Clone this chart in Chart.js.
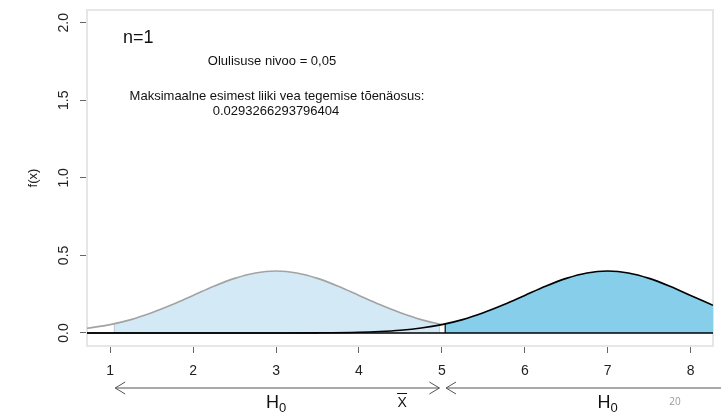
<!DOCTYPE html>
<html>
<head>
<meta charset="utf-8">
<script src="https://cdn.jsdelivr.net/npm/chart.js@4.4.1/dist/chart.umd.min.js"></script>
<style>
  html, body { margin: 0; padding: 0; background: #ffffff; }
  canvas { display: block; }
</style>
</head>
<body>
<canvas id="c" width="721" height="415"></canvas>
<script>
// ---- data ----
const xTicks = [1, 2, 3, 4, 5, 6, 7, 8];
const yTicks = [0, 0.5, 1.0, 1.5, 2.0];
const xRange = [0.72, 8.27];
const yRange = [-0.084, 2.082];

// density under H0 (mean 3), grey outline
const h0CurveX = [0.72, 1.0, 1.25, 1.5, 1.75, 2.0, 2.25, 2.5, 2.75, 3.0, 3.25, 3.5, 3.75, 4.0, 4.25, 4.5, 4.75, 5.0];
const h0CurveY = [0.030, 0.054, 0.086, 0.130, 0.183, 0.242, 0.301, 0.352, 0.387, 0.399, 0.387, 0.352, 0.301, 0.242, 0.183, 0.130, 0.086, 0.054];

// light shaded acceptance region
const h0FillX = [1.05, 1.25, 1.5, 1.75, 2.0, 2.25, 2.5, 2.75, 3.0, 3.25, 3.5, 3.75, 4.0, 4.25, 4.5, 4.75, 4.97];
const h0FillY = [0.060, 0.086, 0.130, 0.183, 0.242, 0.301, 0.352, 0.387, 0.399, 0.387, 0.352, 0.301, 0.242, 0.183, 0.130, 0.086, 0.057];

// density with mean 7, black outline
const h1CurveX = [0.72, 2.5, 3.0, 3.5, 4.0, 4.25, 4.5, 4.75, 5.0, 5.25, 5.5, 5.75, 6.0, 6.25, 6.5, 6.75, 7.0, 7.25, 7.5, 7.75, 8.0, 8.27];
const h1CurveY = [0.000, 0.000, 0.0001, 0.0009, 0.0044, 0.0091, 0.0175, 0.0317, 0.054, 0.086, 0.130, 0.183, 0.242, 0.301, 0.352, 0.387, 0.399, 0.387, 0.352, 0.301, 0.242, 0.178];

// darker shaded region
const h1FillX = [5.04, 5.25, 5.5, 5.75, 6.0, 6.25, 6.5, 6.75, 7.0, 7.25, 7.5, 7.75, 8.0, 8.27];
const h1FillY = [0.058, 0.086, 0.130, 0.183, 0.242, 0.301, 0.352, 0.387, 0.399, 0.387, 0.352, 0.301, 0.242, 0.178];

const zip = (xs, ys) => xs.map((x, i) => ({ x: x, y: ys[i] }));
const edge = (xs, ys, i) => [{ x: xs[i], y: 0 }, { x: xs[i], y: ys[i] }];

const FONT = '"Liberation Sans", Arial, sans-serif';

const overlay = {
  id: 'overlay',
  beforeDatasetsDraw(chart) {
    const { ctx, chartArea: a } = chart;
    ctx.save();
    ctx.strokeStyle = '#e6e6e6';
    ctx.lineWidth = 2;
    ctx.strokeRect(a.left, a.top, a.right - a.left, a.bottom - a.top);
    ctx.restore();
  },
  afterDraw(chart) {
    const { ctx } = chart;
    const xs = chart.scales.x, ys = chart.scales.y;
    ctx.save();
    ctx.fillStyle = '#222';
    // y tick labels (rotated, parallel to axis)
    ctx.font = '14px ' + FONT;
    ctx.textAlign = 'center';
    ctx.textBaseline = 'middle';
    yTicks.forEach(v => {
      ctx.save();
      ctx.translate(64, ys.getPixelForValue(v));
      ctx.rotate(-Math.PI / 2);
      ctx.fillText(v.toFixed(1), 0, 0);
      ctx.restore();
    });
    // y axis title
    ctx.save();
    ctx.font = '13px ' + FONT;
    ctx.translate(33, 178);
    ctx.rotate(-Math.PI / 2);
    ctx.fillText('f(x)', 0, 0);
    ctx.restore();

    // annotations
    ctx.fillStyle = '#111';
    ctx.textAlign = 'left';
    ctx.textBaseline = 'alphabetic';
    ctx.font = '18px ' + FONT;
    ctx.fillText('n=1', 123, 43);
    ctx.textAlign = 'center';
    ctx.textBaseline = 'middle';
    ctx.font = '13px ' + FONT;
    ctx.fillText('Olulisuse nivoo = 0,05', 272, 61);
    ctx.fillText('Maksimaalne esimest liiki vea tegemise tõenäosus:', 277, 96);
    ctx.fillText('0.0293266293796404', 276, 111);

    // arrows under the axis
    const ay = 388;
    const l1 = xs.getPixelForValue(1.06), r1 = xs.getPixelForValue(4.97);
    const l2 = xs.getPixelForValue(5.05);
    ctx.strokeStyle = '#555';
    ctx.lineWidth = 1;
    ctx.beginPath();
    ctx.moveTo(l1, ay); ctx.lineTo(r1, ay);
    ctx.moveTo(l1 + 10, ay - 6); ctx.lineTo(l1, ay); ctx.lineTo(l1 + 10, ay + 6);
    ctx.moveTo(r1 - 10, ay - 6); ctx.lineTo(r1, ay); ctx.lineTo(r1 - 10, ay + 6);
    ctx.moveTo(l2, ay); ctx.lineTo(chart.width, ay);
    ctx.moveTo(l2 + 10, ay - 6); ctx.lineTo(l2, ay); ctx.lineTo(l2 + 10, ay + 6);
    ctx.stroke();

    // H0 labels
    const h0 = (cx) => {
      ctx.textAlign = 'left';
      ctx.textBaseline = 'alphabetic';
      ctx.font = '18px ' + FONT;
      const wH = ctx.measureText('H').width;
      ctx.font = '13px ' + FONT;
      const w0 = ctx.measureText('0').width;
      const x0 = cx - (wH + w0) / 2;
      ctx.font = '18px ' + FONT;
      ctx.fillText('H', x0, 408);
      ctx.font = '13px ' + FONT;
      ctx.fillText('0', x0 + wH, 412);
    };
    ctx.fillStyle = '#111';
    h0(xs.getPixelForValue(3));
    h0(xs.getPixelForValue(7));

    // x-bar
    ctx.font = '14px ' + FONT;
    ctx.textAlign = 'center';
    ctx.textBaseline = 'alphabetic';
    const xb = xs.getPixelForValue(4.52);
    ctx.fillText('X', xb, 407);
    ctx.fillRect(xb - 5, 393, 10, 1);

    // slide number
    ctx.fillStyle = '#9a9a9a';
    ctx.font = '10px "Open Sans", sans-serif';
    ctx.fillText('20', 675, 405);
    ctx.restore();
  }
};

new Chart(document.getElementById('c'), {
  type: 'line',
  data: {
    datasets: [
      { // dark region left edge
        data: edge(h1FillX, h1FillY, 0),
        borderColor: '#000', borderWidth: 1.2, pointRadius: 0, fill: false, order: 0
      },
      { // baseline
        data: [{ x: xRange[0], y: 0 }, { x: xRange[1], y: 0 }],
        borderColor: '#000', borderWidth: 1.6, pointRadius: 0, fill: false, order: 1
      },
      { // mean-7 density
        data: zip(h1CurveX, h1CurveY),
        borderColor: '#000', borderWidth: 1.6, pointRadius: 0, fill: false,
        cubicInterpolationMode: 'monotone', order: 2
      },
      { // mean-3 density
        data: zip(h0CurveX, h0CurveY),
        borderColor: '#a3a3a3', borderWidth: 1.6, pointRadius: 0, fill: false,
        cubicInterpolationMode: 'monotone', order: 3
      },
      { // light region left edge
        data: edge(h0FillX, h0FillY, 0),
        borderColor: '#b8c8cf', borderWidth: 1, pointRadius: 0, fill: false, order: 4
      },
      { // light region right edge
        data: edge(h0FillX, h0FillY, h0FillX.length - 1),
        borderColor: '#b8c8cf', borderWidth: 1, pointRadius: 0, fill: false, order: 4
      },
      { // dark shaded region
        data: zip(h1FillX, h1FillY),
        borderColor: 'rgba(0,0,0,0)', borderWidth: 0, pointRadius: 0,
        backgroundColor: '#87ceeb', fill: 'origin',
        cubicInterpolationMode: 'monotone', order: 5
      },
      { // light shaded region
        data: zip(h0FillX, h0FillY),
        borderColor: 'rgba(0,0,0,0)', borderWidth: 0, pointRadius: 0,
        backgroundColor: '#d3eaf6', fill: 'origin',
        cubicInterpolationMode: 'monotone', order: 6
      }
    ]
  },
  options: {
    responsive: false,
    devicePixelRatio: 1,
    animation: false,
    layout: { padding: { top: 10, right: 8, left: 0, bottom: 0 } },
    plugins: { legend: { display: false }, tooltip: { enabled: false } },
    scales: {
      x: {
        type: 'linear',
        min: xRange[0], max: xRange[1],
        afterBuildTicks: (s) => { s.ticks = xTicks.map(v => ({ value: v })); },
        afterFit: (s) => { s.height = 69; },
        border: { display: false },
        grid: { drawOnChartArea: false, drawTicks: true, tickLength: 7, color: '#666' },
        ticks: { color: '#222', font: { size: 14, family: FONT }, padding: 10, maxRotation: 0, autoSkip: false,
                 callback: (v) => String(v) }
      },
      y: {
        type: 'linear',
        min: yRange[0], max: yRange[1],
        afterBuildTicks: (s) => { s.ticks = yTicks.map(v => ({ value: v })); },
        afterFit: (s) => { s.width = 87; },
        border: { display: false },
        grid: { drawOnChartArea: false, drawTicks: true, tickLength: 7, color: '#666' },
        ticks: { display: false }
      }
    }
  },
  plugins: [overlay]
});
</script>
</body>
</html>
